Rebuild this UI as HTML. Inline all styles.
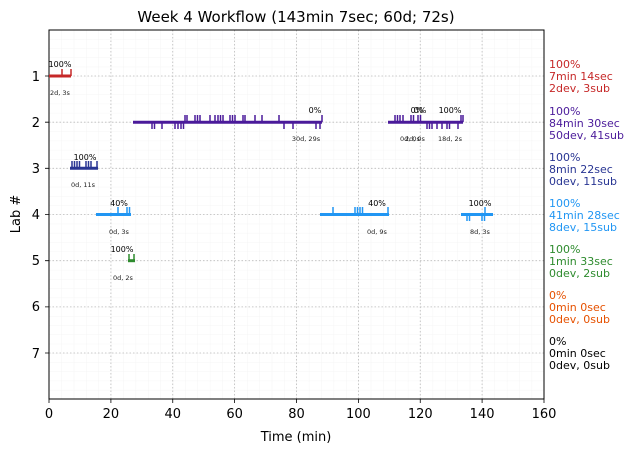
<!DOCTYPE html>
<html><head><style>body{margin:0;background:#fff}svg{display:block}</style></head><body>
<svg width="634" height="453" xmlns="http://www.w3.org/2000/svg" font-family="'DejaVu Sans','Liberation Sans',sans-serif">
<defs>
<pattern id="mg" x="49" y="29.8" width="12.375" height="9.234" patternUnits="userSpaceOnUse">
<path d="M0 0V9.234M0 0H12.375" stroke="#eee" stroke-width="0.6" fill="none"/>
</pattern>
</defs>
<rect x="49" y="30" width="495" height="369" fill="url(#mg)"/>
<g stroke="#bbb" stroke-width="0.8" stroke-dasharray="1.5,2" fill="none">
<path d="M110.9 30V399M172.75 30V399M234.6 30V399M296.5 30V399M358.4 30V399M420.25 30V399M482.1 30V399"/>
<path d="M49 76H544M49 122.2H544M49 168.3H544M49 214.5H544M49 260.7H544M49 306.9H544M49 353H544"/>
</g>
<rect x="49" y="30" width="495" height="369" fill="none" stroke="#000" stroke-width="1"/>
<g stroke="#000" stroke-width="0.8">
<path d="M49 399v4M110.9 399v4M172.75 399v4M234.6 399v4M296.5 399v4M358.4 399v4M420.25 399v4M482.1 399v4M544 399v4"/>
<path d="M49 76h-4M49 122.2h-4M49 168.3h-4M49 214.5h-4M49 260.7h-4M49 306.9h-4M49 353h-4"/>
</g>
<g font-size="13" fill="#000" text-anchor="middle">
<text x="49" y="418">0</text><text x="110.9" y="418">20</text><text x="172.75" y="418">40</text><text x="234.6" y="418">60</text><text x="296.5" y="418">80</text><text x="358.4" y="418">100</text><text x="420.25" y="418">120</text><text x="482.1" y="418">140</text><text x="544" y="418">160</text>
</g>
<g font-size="13" fill="#000" text-anchor="end">
<text x="40" y="81">1</text><text x="40" y="127">2</text><text x="40" y="173">3</text><text x="40" y="219">4</text><text x="40" y="265">5</text><text x="40" y="311">6</text><text x="40" y="358">7</text>
</g>
<text x="296" y="441" font-size="13" text-anchor="middle">Time (min)</text>
<text transform="translate(20,214) rotate(-90)" font-size="13" text-anchor="middle">Lab #</text>
<text x="296" y="22" font-size="15" text-anchor="middle">Week 4 Workflow (143min 7sec; 60d; 72s)</text>

<g fill="none" stroke-width="1.5">
<g stroke="#c62828">
<path d="M49 76H71" stroke-width="3"/>
<path d="M62 76v-7M71 76v-7"/>
</g>
<g stroke="#4a1a9a">
<path d="M133 122.2H322M388 122.2H463" stroke-width="3"/>
<path d="M185 122v-7M187 122v-7M195 122v-7M197.5 122v-7M200 122v-7M210 122v-7M215 122v-7M218 122v-7M220.5 122v-7M223 122v-7M230 122v-7M232.5 122v-7M235 122v-7M243 122v-7M245 122v-7M255 122v-7M262 122v-7M279 122v-7M322 122v-7"/>
<path d="M152 122v7M154.5 122v7M162 122v7M175 122v7M178 122v7M181 122v7M183.5 122v7M284 122v7M293 122v7M316 122v7M320 122v7"/>
<path d="M395 122v-7M397.5 122v-7M400 122v-7M403 122v-7M411 122v-7M413.5 122v-7M418 122v-7M420.5 122v-7M461 122v-7M463 122v-7"/>
<path d="M427 122v7M429.5 122v7M432 122v7M437 122v7M442 122v7M447 122v7M449.5 122v7M458 122v7"/>
</g>
<g stroke="#283593">
<path d="M70 168.3H98" stroke-width="3"/>
<path d="M72 168v-7M74.5 168v-7M77 168v-7M79.5 168v-7M86 168v-7M88.5 168v-7M91 168v-7M97 168v-7"/>
</g>
<g stroke="#2196f3">
<path d="M96 214.5H131M320 214.5H389M461 214.5H493" stroke-width="3"/>
<path d="M118 214v-7M127 214v-7M129.5 214v-7M333 214v-7M355 214v-7M357.5 214v-7M360 214v-7M362.5 214v-7M388 214v-7M485 214v-7"/>
<path d="M467 214v7M469.5 214v7M482 214v7M484.5 214v7"/>
</g>
<g stroke="#2e8b2e">
<path d="M128 260.7H135" stroke-width="3"/>
<path d="M129 261v-7M134 261v-7"/>
</g>
</g>

<g font-size="8" fill="#000" text-anchor="middle">
<text x="60" y="67">100%</text>
<text x="315" y="113">0%</text>
<text x="417" y="113">0%</text><text x="420" y="113">0%</text>
<text x="450" y="113">100%</text>
<text x="85" y="160">100%</text>
<text x="119" y="206">40%</text>
<text x="377" y="206">40%</text>
<text x="480" y="206">100%</text>
<text x="122" y="252">100%</text>
</g>
<g font-size="6.5" fill="#222" text-anchor="middle">
<text x="60" y="95">2d, 3s</text>
<text x="306" y="141">30d, 29s</text>
<text x="410" y="141">0d, 0s</text><text x="415" y="141">2d, 0s</text>
<text x="450" y="141">18d, 2s</text>
<text x="83" y="187">0d, 11s</text>
<text x="119" y="234">0d, 3s</text>
<text x="377" y="234">0d, 9s</text>
<text x="480" y="234">8d, 3s</text>
<text x="123" y="280">0d, 2s</text>
</g>

<g font-size="11">
<g fill="#c62828"><text x="549" y="68">100%</text><text x="549" y="80">7min 14sec</text><text x="549" y="92">2dev, 3sub</text></g>
<g fill="#4a1a9a"><text x="549" y="115">100%</text><text x="549" y="127">84min 30sec</text><text x="549" y="139">50dev, 41sub</text></g>
<g fill="#283593"><text x="549" y="161">100%</text><text x="549" y="173">8min 22sec</text><text x="549" y="185">0dev, 11sub</text></g>
<g fill="#2196f3"><text x="549" y="207">100%</text><text x="549" y="219">41min 28sec</text><text x="549" y="231">8dev, 15sub</text></g>
<g fill="#2e8b2e"><text x="549" y="253">100%</text><text x="549" y="265">1min 33sec</text><text x="549" y="277">0dev, 2sub</text></g>
<g fill="#e65100"><text x="549" y="299">0%</text><text x="549" y="311">0min 0sec</text><text x="549" y="323">0dev, 0sub</text></g>
<g fill="#000"><text x="549" y="345">0%</text><text x="549" y="357">0min 0sec</text><text x="549" y="369">0dev, 0sub</text></g>
</g>
</svg>
</body></html>
